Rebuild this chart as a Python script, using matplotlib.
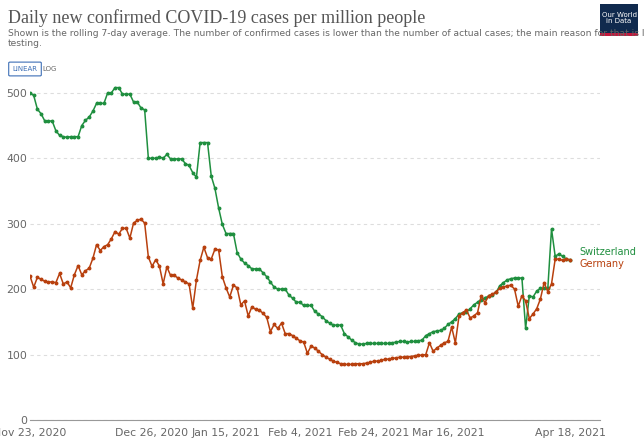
import numpy as np
import matplotlib.pyplot as plt
from matplotlib.patches import FancyBboxPatch, Rectangle

# daily values, Nov 23 2020 .. Apr 18 2021
switzerland = [500,496,475,468,457,457,457,442,435,433,432,433,433,433,450,458,463,472,484,484,
               484,500,500,508,508,498,498,498,486,486,477,474,400,400,400,402,400,406,399,399,
               399,399,392,389,378,371,424,424,424,373,354,324,299,285,285,285,256,246,240,236,
               231,231,231,225,219,211,203,200,200,200,191,186,180,180,175,175,175,166,162,158,
               152,148,145,145,145,132,127,122,118,116,116,117,117,117,117,117,117,117,118,119,
               120,120,119,120,120,121,122,129,132,135,136,137,140,146,150,155,162,164,165,170,
               176,180,184,187,189,191,195,205,210,214,216,217,217,217,140,190,188,197,201,201,
               201,292,250,254,250,246,244]
germany = [220,203,218,215,212,211,211,210,224,208,211,202,222,236,222,228,232,247,268,259,
           265,268,277,288,284,293,293,278,301,305,307,301,249,235,245,235,208,234,221,221,
           217,214,211,208,171,214,244,264,248,246,261,260,219,202,188,206,202,176,182,159,
           173,169,168,163,157,135,146,140,148,132,132,129,125,121,119,102,113,110,105,100,
           96,93,90,88,86,85,85,85,86,86,86,87,88,90,90,91,93,93,94,95,
           96,96,97,97,98,99,99,100,118,105,110,114,118,120,142,118,159,164,168,156,
           159,164,190,179,190,192,196,201,203,205,206,200,174,190,182,155,162,170,185,210,
           196,208,246,246,244,246,245]
tick_days = [0, 33, 53, 73, 93, 113, 146]
tick_labels = ["Nov 23, 2020", "Dec 26, 2020", "Jan 15, 2021", "Feb 4, 2021",
               "Feb 24, 2021", "Mar 16, 2021", "Apr 18, 2021"]
assert len(switzerland) == len(germany) == 147

green = "#1f8f3f"
red = "#b8400e"

fig = plt.figure(figsize=(6.44, 4.44), dpi=100)
ax = fig.add_axes([30/644, 24/444, 570/644, 335/444])
days = np.arange(len(switzerland))
ax.plot(days, switzerland, color=green, lw=1.1, marker="o", ms=1.8)
ax.plot(days, germany, color=red, lw=1.1, marker="o", ms=1.8)
ax.set_xlim(0, 146 * 570 / 540)
ax.set_ylim(0, 512)
ax.set_yticks([0, 100, 200, 300, 400, 500])
ax.set_xticks(tick_days)
ax.set_xticklabels(tick_labels)
ax.tick_params(axis="both", length=0, labelsize=7.8, colors="#666666")
ax.tick_params(axis="x", pad=6)
ax.tick_params(axis="y", pad=2)
ax.grid(axis="y", ls=(0, (3, 3)), color="#dddddd", lw=0.8)
ax.set_axisbelow(True)
for s in ["top", "right", "left"]:
    ax.spines[s].set_visible(False)
ax.spines["bottom"].set_color("#999999")
ax.text(148.5, 257, "Switzerland", color=green, fontsize=7, va="center")
ax.text(148.5, 238, "Germany", color=red, fontsize=7, va="center")

fig.text(8/644, 1 - 18/444, "Daily new confirmed COVID-19 cases per million people",
         fontsize=13, color="#555555", family="Liberation Serif", va="center")
fig.text(8/644, 1 - 34/444, "Shown is the rolling 7-day average. The number of confirmed cases is lower than the number of actual cases; the main reason for that is limited",
         fontsize=6.6, color="#666666", va="center")
fig.text(8/644, 1 - 44/444, "testing.", fontsize=6.6, color="#666666", va="center")

# linear/log buttons
fig.patches.append(FancyBboxPatch((10/644, 1 - 75/444), 30/644, 12/444, boxstyle="round,pad=0.002",
                                  transform=fig.transFigure, fc="white", ec="#3d6fb6", lw=0.8))
fig.text(25/644, 1 - 69/444, "LINEAR", fontsize=5, color="#3d6fb6", ha="center", va="center")
fig.text(50/644, 1 - 69/444, "LOG", fontsize=5, color="#666666", ha="center", va="center")

# logo
fig.patches.append(Rectangle((600/644, 1 - 36/444), 38/644, 32/444, transform=fig.transFigure,
                             fc="#102a4e", ec="none"))
fig.patches.append(Rectangle((600/644, 1 - 36/444), 38/644, 3/444, transform=fig.transFigure,
                             fc="#c4183c", ec="none"))
fig.text(619/644, 1 - 18/444, "Our World\nin Data", fontsize=5, color="white",
         ha="center", va="center", linespacing=1.1)

fig.savefig("out.png", dpi=100)
